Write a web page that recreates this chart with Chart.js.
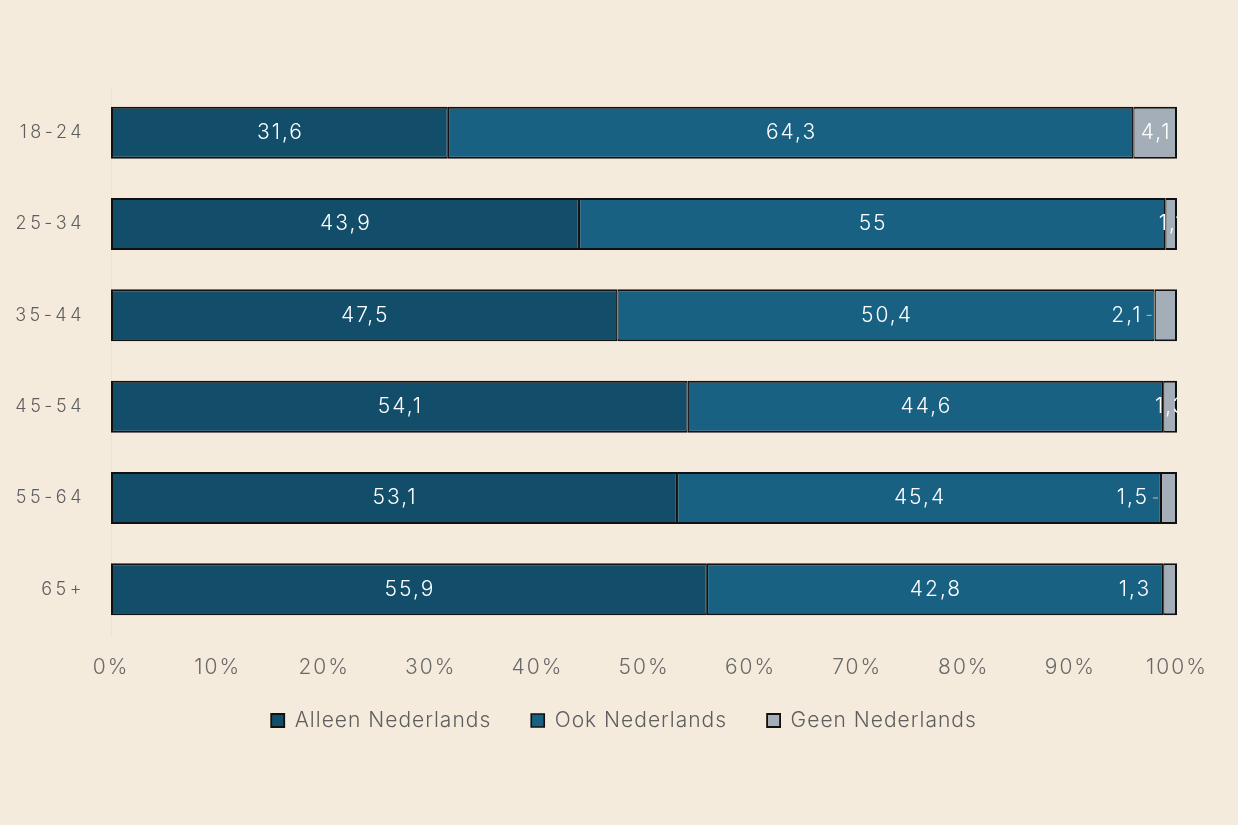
<!DOCTYPE html>
<html>
<head>
<meta charset="utf-8">
<script src="https://cdn.jsdelivr.net/npm/chart.js@4"></script>
<style>
  html, body { margin: 0; padding: 0; background: #f5ebdd; }
  #wrap { width: 1238px; height: 825px; }
</style>
</head>
<body>
<div id="wrap"><canvas id="taalChart" width="1238" height="825"></canvas></div>
<script>
const leeftijden = ['18-24', '25-34', '35-44', '45-54', '55-64', '65+'];
const alleenNederlands = [31.6, 43.9, 47.5, 54.1, 53.1, 55.9];
const ookNederlands = [64.3, 55, 50.4, 44.6, 45.4, 42.8];
const geenNederlands = [4.1, 1.1, 2.1, 1.3, 1.5, 1.3];
const xTicks = [0, 10, 20, 30, 40, 50, 60, 70, 80, 90, 100];

// how the small grey labels sit: in the bar (clipped) or left of it
const geenPlaatsing = ['center', 'center', 'left', 'center', 'left', 'left'];
const geenLijntje = [false, false, true, false, true, false];

const fontFam = "Inter, 'Noto Sans', sans-serif";

// wider letters overall, like the original font
const spacingPlugin = {
    id: 'spacing',
    beforeLayout(chart) { chart.ctx.letterSpacing = '1px'; },
    beforeDraw(chart) { chart.ctx.letterSpacing = '1px'; }
};

const labelPlugin = {
    id: 'barLabels',
    afterDatasetsDraw(chart) {
        const ctx = chart.ctx;
        const area = chart.chartArea;
        ctx.save();
        ctx.font = '300 21px ' + fontFam;
        ctx.letterSpacing = '2px';
        ctx.fillStyle = '#ffffff';
        ctx.textBaseline = 'middle';
        chart.data.datasets.forEach((ds, di) => {
            const meta = chart.getDatasetMeta(di);
            meta.data.forEach((bar, i) => {
                const txt = String(ds.data[i]).replace('.', ',');
                const start = Math.min(bar.x, bar.base);
                const end = Math.max(bar.x, bar.base);
                if (di === 2 && geenPlaatsing[i] === 'left') {
                    ctx.textAlign = 'right';
                    ctx.fillText(txt, start - 12, bar.y);
                    if (geenLijntje[i]) {
                        ctx.save();
                        ctx.strokeStyle = '#c8c0b4';
                        ctx.lineWidth = 1;
                        ctx.beginPath();
                        ctx.moveTo(start - 8, bar.y);
                        ctx.lineTo(start - 3, bar.y);
                        ctx.stroke();
                        ctx.restore();
                    }
                } else {
                    ctx.save();
                    ctx.beginPath();
                    ctx.rect(area.left, area.top, area.right - area.left, area.bottom - area.top);
                    ctx.clip();
                    ctx.textAlign = 'center';
                    ctx.fillText(txt, (start + end) / 2 + 1, bar.y);
                    ctx.restore();
                }
            });
        });
        ctx.restore();
    }
};

function wrapLabels(scale, spacing) {
    if (scale._wrapped) return;
    const orig = scale.drawLabels.bind(scale);
    scale.drawLabels = function (a) {
        const c = scale.ctx;
        c.save();
        c.letterSpacing = spacing;
        orig(a);
        c.restore();
    };
    scale._computeLabelArea = function () { return undefined; };
    scale._wrapped = true;
}

const ctx = document.getElementById('taalChart').getContext('2d');
new Chart(ctx, {
    type: 'bar',
    data: {
        labels: leeftijden,
        datasets: [
            { label: 'Alleen Nederlands', data: alleenNederlands, backgroundColor: '#124e6a',
              borderWidth: { left: 2, right: 1.25, top: 2, bottom: 2 } },
            { label: 'Ook Nederlands', data: ookNederlands, backgroundColor: '#186183',
              borderWidth: { left: 1.25, right: 1.25, top: 2, bottom: 2 } },
            { label: 'Geen Nederlands', data: geenNederlands, backgroundColor: '#a3aeb9',
              borderWidth: { left: 1.25, right: 2, top: 2, bottom: 2 } }
        ]
    },
    options: {
        indexAxis: 'y',
        responsive: false,
        animation: false,
        devicePixelRatio: 1,
        layout: { padding: { top: 87, right: 61, left: 71, bottom: 84 } },
        datasets: {
            bar: {
                categoryPercentage: 1,
                barPercentage: 0.57,
                borderColor: '#111111',
                borderSkipped: false
            }
        },
        scales: {
            x: {
                stacked: true,
                min: 0,
                max: 100,
                afterBuildTicks: function (scale) {
                    scale.ticks = xTicks.map(v => ({ value: v }));
                },
                afterFit: function (scale) { scale.height = 35; },
                afterUpdate: function (scale) { wrapLabels(scale, '2px'); },
                grid: { display: false },
                border: { display: false },
                ticks: {
                    color: '#6a6a6a',
                    font: { family: fontFam, size: 21, weight: 300 },
                    padding: 12,
                    maxRotation: 0,
                    callback: v => v + '%'
                }
            },
            y: {
                stacked: true,
                afterFit: function (scale) { scale.width = 40; },
                afterUpdate: function (scale) { wrapLabels(scale, '3.5px'); },
                grid: { display: false },
                border: { display: true, color: 'rgba(0,0,0,0.04)' },
                ticks: {
                    color: '#5e5e5e',
                    font: { family: fontFam, size: 18, weight: 300 },
                    padding: 18
                }
            }
        },
        plugins: {
            legend: {
                position: 'bottom',
                labels: {
                    color: '#5e5e5e',
                    font: { family: fontFam, size: 21, weight: 300 },
                    boxWidth: 13,
                    boxHeight: 13,
                    padding: 40,
                    useBorderRadius: false
                }
            },
            tooltip: { enabled: false }
        }
    },
    plugins: [spacingPlugin, labelPlugin]
});
</script>
</body>
</html>
